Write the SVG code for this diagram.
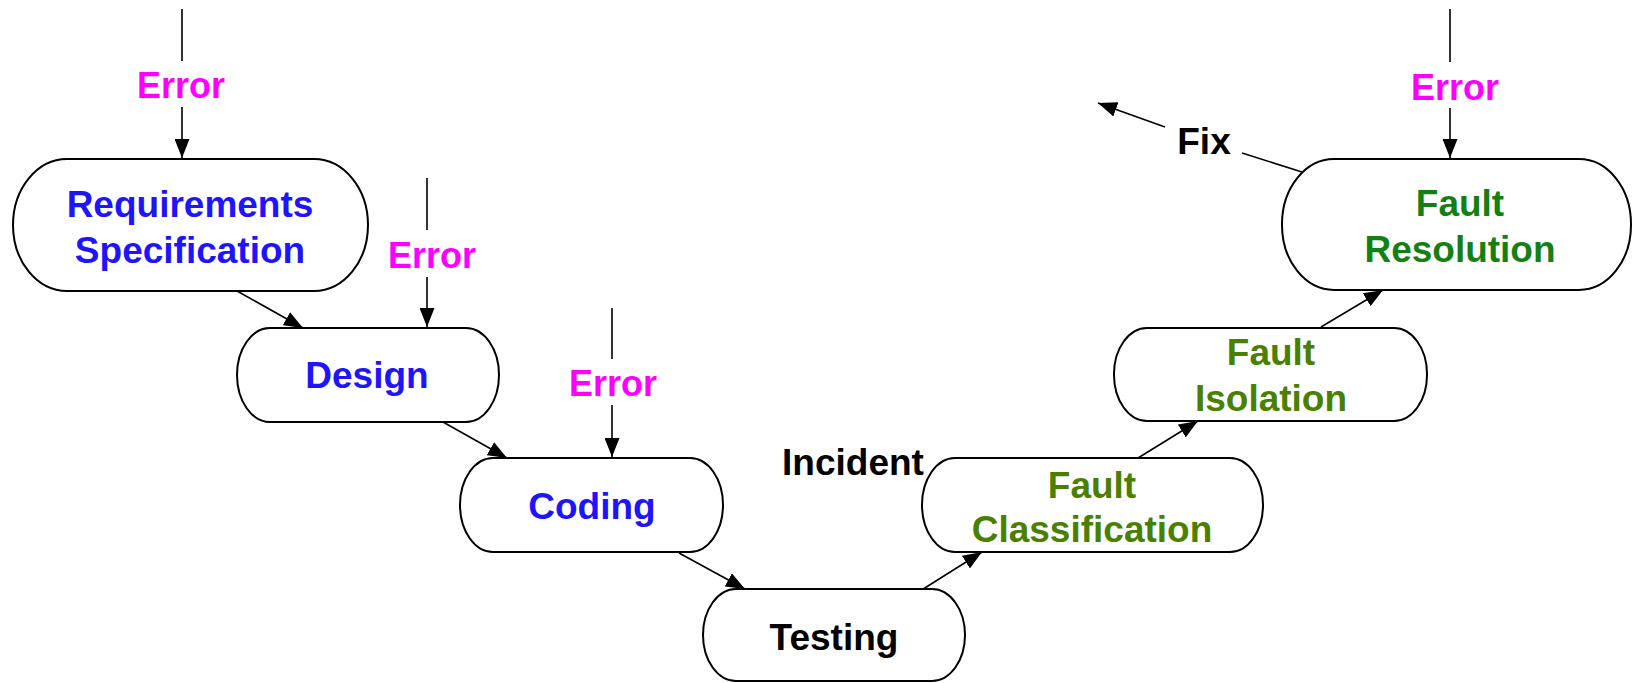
<svg xmlns="http://www.w3.org/2000/svg" width="1633" height="683" viewBox="0 0 1633 683">
<defs>
<style>
.node{fill:#fff;stroke:#000;stroke-width:2}
.t{font-family:"Liberation Sans",Arial,sans-serif;font-weight:bold;font-size:37px;text-anchor:middle}
.blue{fill:#1f14ff}
.g1{fill:#138013}
.g2{fill:#4a8000}
.blk{fill:#000}
.err{fill:#ff00ff;font-size:36px}
.c{stroke:#000;stroke-width:1.6;fill:none}
.a{marker-end:url(#ah)}
</style>
<marker id="ah" markerUnits="userSpaceOnUse" markerWidth="19" markerHeight="15" refX="19" refY="7.5" orient="auto">
<path d="M0,0 L19,7.5 L0,15 z" fill="#000"/>
</marker>
</defs>
<rect width="1633" height="683" fill="#fff"/>
<g id="connectors">
<line class="c" x1="182" y1="9" x2="182" y2="61"/>
<line class="c a" x1="182" y1="107" x2="182" y2="158"/>
<line class="c" x1="427" y1="178" x2="427" y2="230"/>
<line class="c a" x1="427" y1="277" x2="427" y2="327"/>
<line class="c" x1="612" y1="308" x2="612" y2="359"/>
<line class="c a" x1="612" y1="405" x2="612" y2="457"/>
<line class="c" x1="1450" y1="9" x2="1450" y2="62"/>
<line class="c a" x1="1450" y1="108" x2="1450" y2="158"/>
<line class="c a" x1="237" y1="291" x2="303" y2="328"/>
<line class="c a" x1="443" y1="422" x2="507" y2="458"/>
<line class="c a" x1="679" y1="553" x2="745" y2="589"/>
<line class="c a" x1="920" y1="591" x2="982" y2="552"/>
<line class="c a" x1="1138" y1="458" x2="1198" y2="421"/>
<line class="c a" x1="1321" y1="327" x2="1383" y2="290"/>
<line class="c" x1="1302" y1="172" x2="1242" y2="153"/>
<line class="c a" x1="1165" y1="127" x2="1098" y2="103"/>
</g>
<g id="labels">
<text class="t err" x="181" y="98">Error</text>
<text class="t err" x="432" y="268">Error</text>
<text class="t err" x="613" y="396">Error</text>
<text class="t err" x="1455" y="100">Error</text>
<text class="t blk" x="853" y="475">Incident</text>
<text class="t blk" x="1204" y="154">Fix</text>
</g>
<g id="req">
<rect class="node" x="13" y="159" width="355" height="132" rx="54" ry="66"/>
<text class="t blue" x="190" y="217">Requirements</text>
<text class="t blue" x="190" y="263">Specification</text>
</g>
<g id="design">
<rect class="node" x="237" y="328" width="262" height="94" rx="33" ry="47"/>
<text class="t blue" x="367" y="388">Design</text>
</g>
<g id="coding">
<rect class="node" x="460" y="458" width="263" height="94" rx="33" ry="47"/>
<text class="t blue" x="592" y="519">Coding</text>
</g>
<g id="testing">
<rect class="node" x="703" y="589" width="262" height="92" rx="33" ry="46"/>
<text class="t blk" x="834" y="650">Testing</text>
</g>
<g id="fclass">
<rect class="node" x="922" y="458" width="341" height="94" rx="33" ry="47"/>
<text class="t g2" x="1092" y="498">Fault</text>
<text class="t g2" x="1092" y="542">Classification</text>
</g>
<g id="fiso">
<rect class="node" x="1114" y="328" width="313" height="93" rx="33" ry="46"/>
<text class="t g2" x="1271" y="365">Fault</text>
<text class="t g2" x="1271" y="411">Isolation</text>
</g>
<g id="fres">
<rect class="node" x="1282" y="159" width="349" height="131" rx="52" ry="65"/>
<text class="t g1" x="1460" y="216">Fault</text>
<text class="t g1" x="1460" y="262">Resolution</text>
</g>
</svg>
